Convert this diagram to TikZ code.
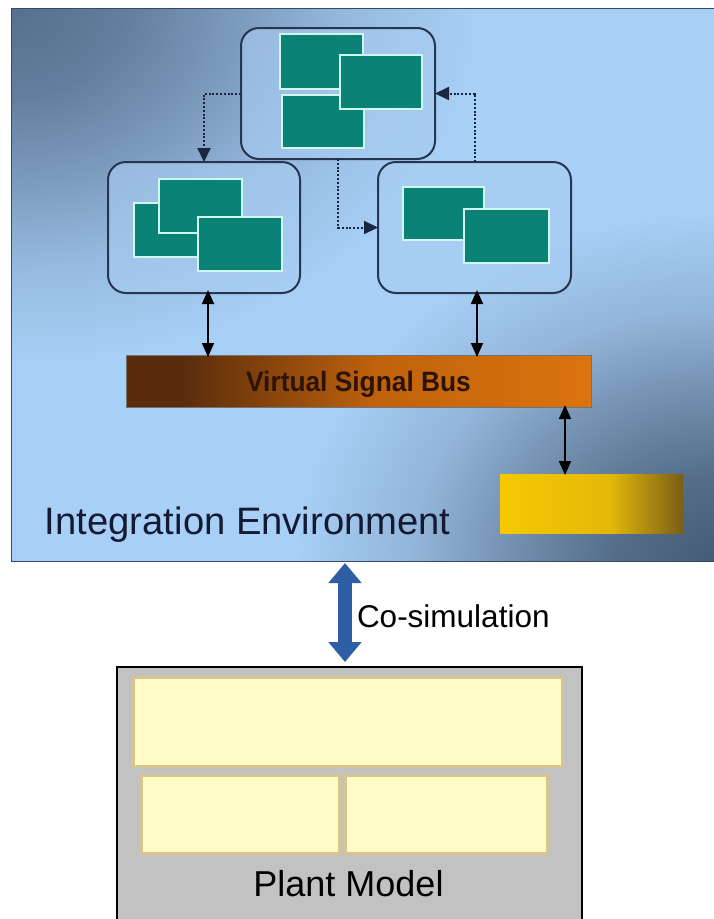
\documentclass[tikz,border=0pt]{standalone}
\usepackage{fontspec}
\setmainfont{Liberation Sans}
\usepackage{graphicx}
\usetikzlibrary{arrows.meta}

\definecolor{bgA}{HTML}{56708E}
\definecolor{bgB}{HTML}{A8CFF6}
\definecolor{bgC}{HTML}{465C76}
\definecolor{navy}{HTML}{263550}
\definecolor{modfill}{HTML}{A9CDF2}
\definecolor{teal}{HTML}{0B8276}
\definecolor{tealedge}{HTML}{CFF7EE}
\definecolor{busA}{HTML}{5A2C0C}
\definecolor{busB}{HTML}{C0620C}
\definecolor{busC}{HTML}{DA740E}
\definecolor{bustext}{HTML}{2B1406}
\definecolor{golda}{HTML}{F6C800}
\definecolor{goldb}{HTML}{E4B80A}
\definecolor{goldc}{HTML}{7A5E16}
\definecolor{coblue}{HTML}{2D5EA6}
\definecolor{plantgray}{HTML}{C2C2C2}
\definecolor{cream}{HTML}{FFFBC6}
\definecolor{tan}{HTML}{D6C592}
\definecolor{dottedc}{HTML}{1A2540}
\definecolor{envtext}{HTML}{141A33}

% the shaded path's bounding box covers the 25bp--75bp part of each shading
\pgfdeclarehorizontalshading{busshade}{100bp}{color(0bp)=(busA); color(31bp)=(busA); color(52bp)=(busB); color(75bp)=(busC); color(100bp)=(busC)}
\pgfdeclarehorizontalshading{goldshade}{100bp}{color(0bp)=(golda); color(25bp)=(golda); color(55bp)=(goldb); color(75bp)=(goldc); color(100bp)=(goldc)}
% soft corner glows that ease into the light blue
\pgfdeclareradialshading{glowA}{\pgfpoint{0bp}{0bp}}{color(0bp)=(bgA); color(6bp)=(bgA!85!bgB); color(12bp)=(bgA!55!bgB); color(18bp)=(bgA!22!bgB); color(25bp)=(bgB); color(50bp)=(bgB)}
\pgfdeclareradialshading{glowC}{\pgfpoint{0bp}{0bp}}{color(0bp)=(bgC); color(6bp)=(bgC!85!bgB); color(12bp)=(bgC!55!bgB); color(18bp)=(bgC!22!bgB); color(25bp)=(bgB); color(50bp)=(bgB)}

\begin{document}
\begin{tikzpicture}[x=1pt,y=-1pt,
  every node/.style={inner sep=0pt, outer sep=0pt},
  modbox/.style={draw=navy, line width=2pt, rounded corners=18pt, fill=modfill, fill opacity=0.6},
  win/.style={draw=tealedge, line width=1.6pt, fill=teal},
  flowline/.style={draw=dottedc, line width=2pt, dash pattern=on 2pt off 1.8pt,
    -{Triangle[width=13pt,length=14pt]}},
  busline/.style={draw=black, line width=1.8pt,
    {Triangle[width=12pt,length=14pt]}-{Triangle[width=12pt,length=14pt]}},
  cream box/.style={draw=tan, line width=3pt, fill=cream},
  label/.style={text=black, anchor=base west}
]
\clip (0,0) rectangle (714,919);
\fill[white] (0,0) rectangle (714,919);

% integration environment panel: light blue, darker towards two corners
\begin{scope}
  \clip (11,8) rectangle (714,561);
  \fill[bgB] (11,8) rectangle (714,561);
  \shade[shading=glowA] (11,8) ellipse [x radius=470pt, y radius=360pt];
  \shade[shading=glowC] (714,561) ellipse [x radius=420pt, y radius=350pt];
\end{scope}
\node[draw=bgC!80!black, line width=0.8pt,
      minimum width=703pt, minimum height=553pt] (env) at (362.5,284.5) {};

% component containers
\node[modbox, minimum width=194pt, minimum height=131pt] (top) at (338,93.5) {};
\node[modbox, minimum width=192pt, minimum height=131pt] (left) at (204,227.5) {};
\node[modbox, minimum width=193pt, minimum height=131pt] (right) at (474.5,227.5) {};

% windows inside the containers
\node[win, minimum width=83pt, minimum height=55pt] (t1) at (321.5,61.5) {};
\node[win, minimum width=82pt, minimum height=53pt] (t2) at (323,121.5) {};
\node[win, minimum width=82pt, minimum height=54pt] (t3) at (381,82) {};
\node[win, minimum width=82pt, minimum height=54pt] (l1) at (175,230) {};
\node[win, minimum width=83pt, minimum height=54pt] (l2) at (200.5,206) {};
\node[win, minimum width=84pt, minimum height=54pt] (l3) at (240,244) {};
\node[win, minimum width=81pt, minimum height=53pt] (r1) at (443.5,213.5) {};
\node[win, minimum width=85pt, minimum height=54pt] (r2) at (506.5,236) {};

% data flow between containers
\draw[flowline] (top.west) -| (left.north);
\draw[flowline] (top.south) |- (right.west);
\draw[flowline] (right.north) |- (top.east);

% virtual signal bus
\node[shading=busshade, draw=black!55, line width=0.6pt,
      minimum width=465pt, minimum height=52pt] (bus) at (358.5,381) {};
\node[anchor=base, text=bustext, font=\bfseries\fontsize{28}{30}\selectfont] (bustxt) at (358.5,391)
  {\scalebox{0.94}[1]{Virtual Signal Bus}};

% gold component
\node[shading=goldshade, minimum width=183pt, minimum height=59pt] (gold) at (591.5,503.5) {};

% bus connections
\coordinate (bl) at ([xshift=4pt]left.south);
\coordinate (br) at ([xshift=2.5pt]right.south);
\coordinate (bg) at (565,407);
\draw[busline] ([yshift=3pt]bl) -- ([yshift=-2pt]bl |- bus.north);
\draw[busline] ([yshift=3pt]br) -- ([yshift=-2pt]br |- bus.north);
\draw[busline] ([yshift=2pt]bg) -- ([yshift=-1pt]bg |- gold.north);

\node[label, text=envtext, font=\fontsize{38.2}{40}\selectfont] (envtxt) at (45,534) {Integration Environment};

% plant model
\node[draw=black, line width=1.5pt, fill=plantgray, minimum width=465pt, minimum height=268pt] (plant) at (349.5,801) {};
\node[cream box, minimum width=429pt, minimum height=89pt] (p1) at (347.5,721.5) {};
\node[cream box, minimum width=198pt, minimum height=78pt] (p2) at (240,814) {};
\node[cream box, minimum width=202pt, minimum height=78pt] (p3) at (446,814) {};
\node[anchor=base, font=\fontsize{36}{38}\selectfont] (planttxt) at (348.5,896) {Plant Model};

% co-simulation link
\coordinate (cs1) at (345,563);
\coordinate (cs2) at (345,662);
\draw[coblue, line width=14pt, {Triangle[width=32pt,length=20pt]}-{Triangle[width=32pt,length=20pt]}] (cs1) -- (cs2);
\node[label, font=\fontsize{31.5}{33}\selectfont] (cotxt) at (357,627) {Co-simulation};
\end{tikzpicture}
\end{document}
